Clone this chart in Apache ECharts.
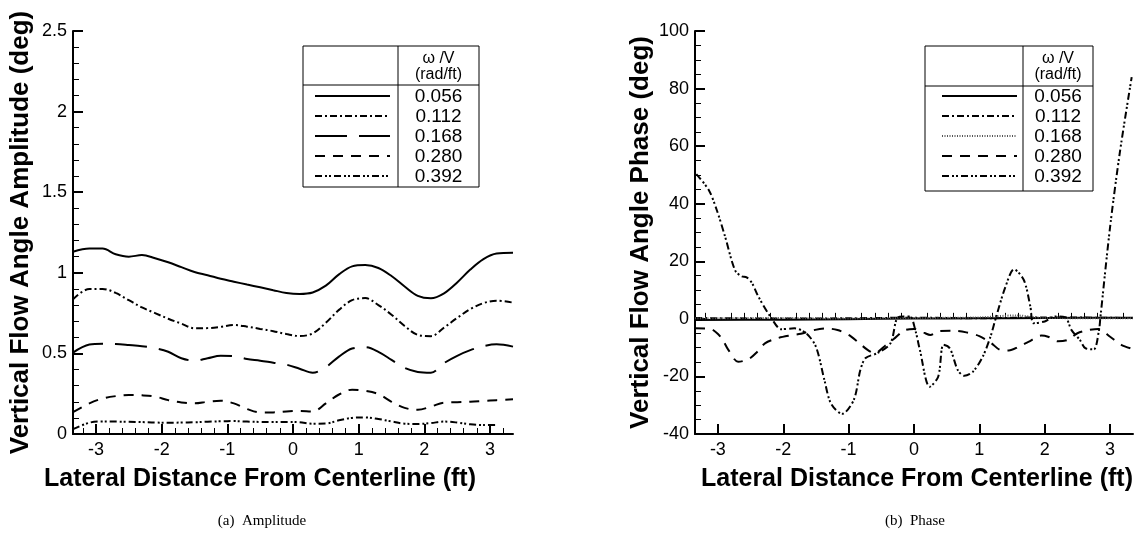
<!DOCTYPE html>
<html><head><meta charset="utf-8">
<script src="https://cdn.jsdelivr.net/npm/echarts@6/dist/echarts.min.js"></script>
<style>html,body{margin:0;padding:0;background:#fff}#c{width:1143px;height:541px}</style>
</head><body><div id="c"></div>
<script>
// ---------- data ----------
const seriesNames = ['0.056', '0.112', '0.168', '0.280', '0.392'];
const xMajorTicks = [-3, -2, -1, 0, 1, 2, 3];
const xMinorTicks = [-3.2, -2.8, -2.6, -2.4, -2.2, -1.8, -1.6, -1.4, -1.2, -0.8, -0.6, -0.4, -0.2,
  0.2, 0.4, 0.6, 0.8, 1.2, 1.4, 1.6, 1.8, 2.2, 2.4, 2.6, 2.8, 3.2];

// (a) Amplitude, shared lateral positions
const ampX = [-3.35, -3.1, -2.9, -2.7, -2.5, -2.3, -2.1, -1.9, -1.7, -1.5, -1.3, -1.1, -0.9, -0.7, -0.5, -0.3, -0.1,
  0.1, 0.3, 0.5, 0.7, 0.9, 1.1, 1.3, 1.5, 1.7, 1.9, 2.1, 2.3, 2.5, 2.7, 2.9, 3.1, 3.35];
const amp056 = [1.131, 1.15, 1.15, 1.115, 1.10, 1.11, 1.09, 1.065, 1.035, 1.005, 0.985, 0.963, 0.945, 0.927, 0.91, 0.892, 0.875,
  0.869, 0.878, 0.92, 0.99, 1.04, 1.048, 1.03, 0.98, 0.915, 0.857, 0.842, 0.873, 0.94, 1.02, 1.085, 1.12, 1.125];
const amp112 = [0.835, 0.9, 0.9, 0.875, 0.83, 0.785, 0.75, 0.715, 0.685, 0.656, 0.657, 0.665, 0.676, 0.666, 0.652, 0.638, 0.62,
  0.608, 0.624, 0.69, 0.77, 0.83, 0.843, 0.8, 0.74, 0.67, 0.615, 0.607, 0.66, 0.72, 0.775, 0.812, 0.827, 0.815];
const amp168 = [0.505, 0.555, 0.56, 0.558, 0.552, 0.545, 0.533, 0.51, 0.47, 0.455, 0.47, 0.485, 0.483, 0.465, 0.455, 0.442, 0.43,
  0.405, 0.38, 0.415, 0.48, 0.53, 0.538, 0.51, 0.46, 0.41, 0.385, 0.38, 0.44, 0.485, 0.52, 0.545, 0.556, 0.542];
const amp280 = [0.135, 0.19, 0.22, 0.235, 0.242, 0.24, 0.232, 0.21, 0.196, 0.19, 0.2, 0.206, 0.19, 0.155, 0.134, 0.134, 0.14,
  0.143, 0.14, 0.19, 0.245, 0.275, 0.268, 0.248, 0.2, 0.162, 0.15, 0.17, 0.195, 0.197, 0.2, 0.205, 0.21, 0.215];
const amp392 = [0.03, 0.07, 0.078, 0.077, 0.076, 0.074, 0.071, 0.07, 0.071, 0.073, 0.076, 0.079, 0.08, 0.077, 0.075, 0.074, 0.075,
  0.073, 0.064, 0.065, 0.085, 0.1, 0.103, 0.093, 0.078, 0.064, 0.062, 0.068, 0.077, 0.071, 0.06, 0.056, 0.056, null];

// (b) Phase
const ph056X = [-3.35, -2, -1, 0, 1, 2, 3.35];
const ph056 = [-0.4, -0.3, -0.1, 0.1, 0.2, 0.3, 0.4];
const ph112X = [-3.35, -2, -1, 0, 1, 2, 3.35];
const ph112 = [0.3, 0.1, 0.2, 0.4, 0.2, 0.5, 0.3];
const ph168X = [-3.35, -2, -1, 0, 1, 1.55, 2, 3.35];
const ph168 = [0.2, 0.3, 0.1, 0.3, 0.5, 1.2, 0.3, 0.2];
const ph280X = [-3.35, -3.12, -2.95, -2.84, -2.69, -2.53, -2.4, -2.28, -2.1, -1.9, -1.73, -1.55, -1.35, -1.17, -1.0, -0.86,
  -0.71, -0.6, -0.45, -0.31, -0.15, 0.0, 0.15, 0.25, 0.4, 0.6, 0.8, 1.0, 1.18, 1.32, 1.45, 1.6, 1.75, 1.95, 2.05, 2.2, 2.35,
  2.5, 2.65, 2.82, 3.0, 3.17, 3.35];
const ph280 = [-3.3, -3.5, -6.5, -10.8, -14.9, -14.0, -11.5, -8.5, -6.8, -5.8, -5.2, -4.0, -3.3, -3.9, -5.6, -8.0,
  -10.8, -12.0, -9.5, -7.0, -4.0, -3.5, -4.8, -5.6, -4.2, -4.1, -4.7, -6.0, -8.4, -10.8, -11.0, -9.7, -8.0, -5.8, -6.2, -7.8, -7.3,
  -5.0, -4.0, -3.5, -6.2, -9.0, -10.5];
const ph392X = [-3.33, -3.14, -3.02, -2.89, -2.74, -2.64, -2.56, -2.48, -2.38, -2.18, -2.03, -1.83, -1.65, -1.5, -1.37, -1.27,
  -1.1, -0.92, -0.82, -0.74, -0.56, -0.36, -0.26, -0.16, -0.06, 0.02, 0.09, 0.24, 0.37, 0.45, 0.55, 0.67, 0.77, 0.9, 1.05,
  1.17, 1.25, 1.4, 1.53, 1.68, 1.78, 1.83, 2.0, 2.16, 2.31, 2.41, 2.54, 2.62, 2.75, 2.83, 2.85, 3.0, 3.15, 3.33];
const ph392 = [50.3, 44.8, 38.0, 28.6, 17.0, 14.8, 14.4, 12.5, 7.7, 0.2, -3.6, -3.3, -5.0, -9.7, -21.3, -29.4,
  -33.0, -28.1, -17.7, -13.6, -11.9, -8.5, 0.2, 0.8, 0.8, -3.9, -10.8, -23.6, -20.1, -9.0, -10.3, -17.8, -19.8, -18.4, -13.2,
  -6.2, 0.2, 11.2, 17.2, 13.5, 4.3, -1.5, -0.9, 0.8, 0.6, -3.9, -7.4, -10.2, -10.6, -3.9, 0.2, 32.0, 58.0, 84.0];

// ---------- styles ----------
const FONT = '"Liberation Sans", Arial, sans-serif';
const dashAmp = ['solid', [7, 3, 2, 3], [32, 12], [10, 8], [7, 3, 2, 2, 2, 3]];
const dashPh = ['solid', [7, 3, 2, 3], [1, 1.5], [10, 8], [7, 3, 2, 2, 2, 3]];

function zip(xs, ys) { return xs.map((x, i) => [x, ys[i]]); }

function xAxes(gridIndex, shift) {
  return [{
    type: 'value', gridIndex, min: -3.35, max: 3.35, position: 'bottom',
    name: 'Lateral Distance From Centerline (ft)', nameLocation: 'middle', nameGap: 33,
    nameTextStyle: { fontFamily: FONT, fontWeight: 'bold', fontSize: 25, color: '#000',
      padding: shift > 0 ? [0, shift * 2, 0, 0] : [0, 0, 0, -shift * 2] },
    axisLine: { onZero: false, lineStyle: { color: '#000', width: 2 } },
    axisTick: { inside: true, length: 10, customValues: xMajorTicks, lineStyle: { color: '#000', width: 2 } },
    axisLabel: { customValues: xMajorTicks, fontFamily: FONT, fontSize: 18, color: '#000', margin: 7 },
    splitLine: { show: false }
  }, {
    type: 'value', gridIndex, min: -3.35, max: 3.35, position: 'bottom',
    axisLine: { show: false },
    axisTick: { inside: true, length: 6, customValues: xMinorTicks, lineStyle: { color: '#000', width: 1 } },
    axisLabel: { show: false }, splitLine: { show: false }
  }];
}

function yAxis(gridIndex, min, max, interval, split, name, gap, fmt) {
  return {
    type: 'value', gridIndex, min, max, interval,
    name, nameLocation: 'middle', nameGap: gap,
    nameTextStyle: { fontFamily: FONT, fontWeight: 'bold', fontSize: 26, color: '#000' },
    axisLine: { show: true, onZero: false, lineStyle: { color: '#000', width: 2 } },
    axisTick: { show: true, inside: true, length: 10, lineStyle: { color: '#000', width: 2 } },
    minorTick: { show: true, splitNumber: split, length: 6, lineStyle: { color: '#000', width: 1 } },
    axisLabel: { fontFamily: FONT, fontSize: 18, color: '#000', margin: 6, formatter: fmt },
    splitLine: { show: false }, minorSplitLine: { show: false }
  };
}

function mkSeries(name, data, xi, yi, dash, smooth, color) {
  return {
    type: 'line', name, data, xAxisIndex: xi, yAxisIndex: yi, showSymbol: false, symbol: 'none',
    smooth, connectNulls: false, animation: false, z: 3,
    lineStyle: { color: color || '#000', width: 2, type: dash, cap: 'butt' }
  };
}

const ampSeries = [amp056, amp112, amp168, amp280, amp392];
const phSeries = [[ph056X, ph056], [ph112X, ph112], [ph168X, ph168], [ph280X, ph280], [ph392X, ph392]];

const series = [];
ampSeries.forEach((ys, i) => series.push(mkSeries(seriesNames[i], zip(ampX, ys), 0, 0, dashAmp[i], 0.35)));
phSeries.forEach((p, i) => series.push(mkSeries(seriesNames[i], zip(p[0], p[1]), 2, 1, dashPh[i], 0.3,
  i === 2 ? '#555' : '#000')));

function legendGraphic(x0, y0, w, h, divX, headY, rowY0, step, s0, s1, dashes) {
  const els = [];
  els.push({ type: 'rect', shape: { x: x0, y: y0, width: w, height: h }, style: { fill: 'none', stroke: '#000', lineWidth: 1 } });
  els.push({ type: 'line', shape: { x1: divX, y1: y0, x2: divX, y2: y0 + h }, style: { stroke: '#000', lineWidth: 1 } });
  els.push({ type: 'line', shape: { x1: x0, y1: headY, x2: x0 + w, y2: headY }, style: { stroke: '#000', lineWidth: 1 } });
  const cx = (divX + x0 + w) / 2;
  els.push({ type: 'text', style: { text: 'ω /V', x: cx, y: y0 + 13, align: 'center', verticalAlign: 'middle', font: '16px ' + FONT, fill: '#000' } });
  els.push({ type: 'text', style: { text: '(rad/ft)', x: cx, y: y0 + 29, align: 'center', verticalAlign: 'middle', font: '16px ' + FONT, fill: '#000' } });
  seriesNames.forEach((n, i) => {
    const y = rowY0 + i * step;
    const d = dashes[i];
    els.push({ type: 'line', shape: { x1: s0, y1: y, x2: s1, y2: y },
      style: { stroke: i === 2 && d.length === 2 && d[0] === 1 ? '#555' : '#000', lineWidth: 2, lineDash: d === 'solid' ? null : d, lineCap: 'butt' } });
    els.push({ type: 'text', style: { text: n, x: cx, y: y + 1, align: 'center', verticalAlign: 'middle', font: '19px ' + FONT, fill: '#000' } });
  });
  return els;
}

const graphics = []
  .concat(legendGraphic(303, 46, 176, 141, 398, 85, 96, 20, 315, 390, dashAmp))
  .concat(legendGraphic(925, 46, 168, 145, 1023, 86, 96, 20, 942, 1017, dashPh));
graphics.push({ type: 'text', style: { text: '(a)  Amplitude', x: 262, y: 521, align: 'center', verticalAlign: 'middle', font: '15px "Liberation Serif", "Times New Roman", serif', fill: '#000' } });
graphics.push({ type: 'text', style: { text: '(b)  Phase', x: 915, y: 521, align: 'center', verticalAlign: 'middle', font: '15px "Liberation Serif", "Times New Roman", serif', fill: '#000' } });

const chart = echarts.init(document.getElementById('c'), null, { renderer: 'canvas' });
chart.setOption({
  animation: false,
  backgroundColor: '#fff',
  grid: [
    { left: 73, top: 31, width: 440, height: 403 },
    { left: 695, top: 31, width: 438, height: 403 }
  ],
  xAxis: xAxes(0, 33).concat(xAxes(1, -3)),
  yAxis: [
    yAxis(0, 0, 2.5, 0.5, 5, 'Vertical Flow Angle Amplitude (deg)', 39, v => String(v)),
    yAxis(1, -40, 100, 20, 4, 'Vertical Flow Angle Phase (deg)', 41, v => String(v))
  ],
  series,
  graphic: graphics
});
</script></body></html>
